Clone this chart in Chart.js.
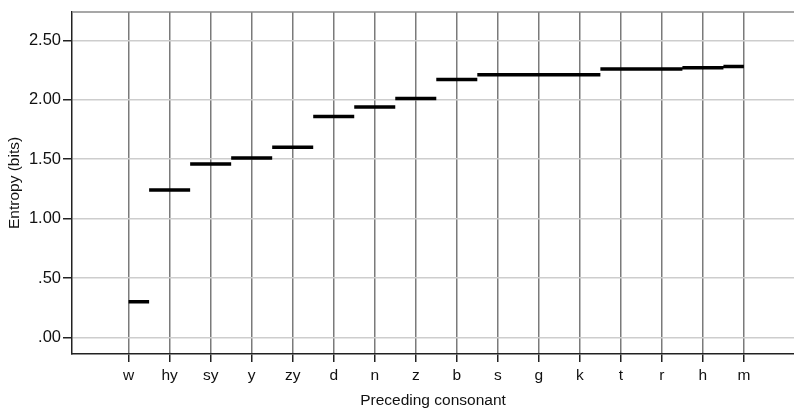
<!DOCTYPE html>
<html>
<head>
<meta charset="utf-8">
<script src="https://cdn.jsdelivr.net/npm/chart.js@4"></script>
<style>
    html, body { margin: 0; padding: 0; background: #fff; }
    #wrap { width: 794px; height: 410px; }
</style>
</head>
<body>
<div id="wrap"><canvas id="chart"></canvas></div>
<script>
// Entropy by preceding consonant

var consonants = ['w', 'hy', 'sy', 'y', 'zy', 'd', 'n', 'z', 'b', 's', 'g', 'k', 't', 'r', 'h', 'm'];
var entropyBits = [0.30, 1.24, 1.46, 1.51, 1.60, 1.86, 1.94, 2.01, 2.17, 2.21, 2.21, 2.21, 2.26, 2.26, 2.27, 2.28];
var yTickValues = [0, 0.5, 1, 1.5, 2, 2.5];

// each value is a short flat dash across its category slot
var dashPoints = [];
var lastIdx = consonants.length - 1;
for (var i = 0; i < entropyBits.length; i++) {
    dashPoints.push({ x: Math.max(i - 0.5, 0), y: entropyBits[i] });
    dashPoints.push({ x: Math.min(i + 0.5, lastIdx), y: entropyBits[i] });
    dashPoints.push({ x: i + 0.5, y: null });
}

// thin frame line along the top of the plot area
var topFrame = {
    id: 'topFrame',
    afterDraw: function (chart) {
        var a = chart.chartArea;
        var ctx = chart.ctx;
        ctx.save();
        ctx.strokeStyle = '#8a8a8a';
        ctx.lineWidth = 1.5;
        ctx.beginPath();
        ctx.moveTo(a.left, a.top);
        ctx.lineTo(a.right, a.top);
        ctx.stroke();
        ctx.restore();
    }
};

Chart.defaults.font.family = '"Liberation Sans", Arial, sans-serif';
Chart.defaults.color = '#111';

new Chart(document.getElementById('chart').getContext('2d'), {
    type: 'line',
    data: {
        datasets: [{
            data: dashPoints,
            borderColor: '#000',
            borderWidth: 3.5,
            borderCapStyle: 'butt',
            pointRadius: 0,
            spanGaps: false,
            fill: false
        }]
    },
    options: {
        responsive: true,
        maintainAspectRatio: false,
        animation: false,
        layout: { padding: { top: 6, right: 0, left: 0, bottom: 0 } },
        plugins: {
            legend: { display: false },
            tooltip: { enabled: false }
        },
        scales: {
            x: {
                type: 'linear',
                min: -1.38,
                max: 16.22,
                afterBuildTicks: function (scale) {
                    scale.ticks = consonants.map(function (c, idx) { return { value: idx }; });
                },
                afterFit: function (scale) { scale.height = 56; },
                ticks: {
                    autoSkip: false,
                    maxRotation: 0,
                    padding: 4,
                    font: { size: 15.5 },
                    callback: function (v) { return consonants[v]; }
                },
                grid: {
                    color: '#7a7a7a',
                    lineWidth: 1.5,
                    tickLength: 8,
                    tickColor: '#222'
                },
                border: { color: '#222', width: 1.5 },
                title: {
                    display: true,
                    text: 'Preceding consonant',
                    font: { size: 15.5 },
                    padding: { top: 1, bottom: 0 }
                }
            },
            y: {
                min: -0.14,
                max: 2.74,
                afterBuildTicks: function (scale) {
                    scale.ticks = yTickValues.map(function (v) { return { value: v }; });
                },
                afterFit: function (scale) { scale.width = 72; },
                ticks: {
                    padding: 2,
                    font: { size: 16.5 },
                    callback: function (v) { return v.toFixed(2).replace(/^0/, ''); }
                },
                grid: {
                    color: '#cdcdcd',
                    lineWidth: 1.5,
                    tickLength: 9,
                    tickColor: '#222'
                },
                border: { color: '#222', width: 1.5 },
                title: {
                    display: true,
                    text: 'Entropy (bits)',
                    font: { size: 15.5 },
                    padding: { top: 5, bottom: 0 }
                }
            }
        }
    },
    plugins: [topFrame]
});
</script>
</body>
</html>
